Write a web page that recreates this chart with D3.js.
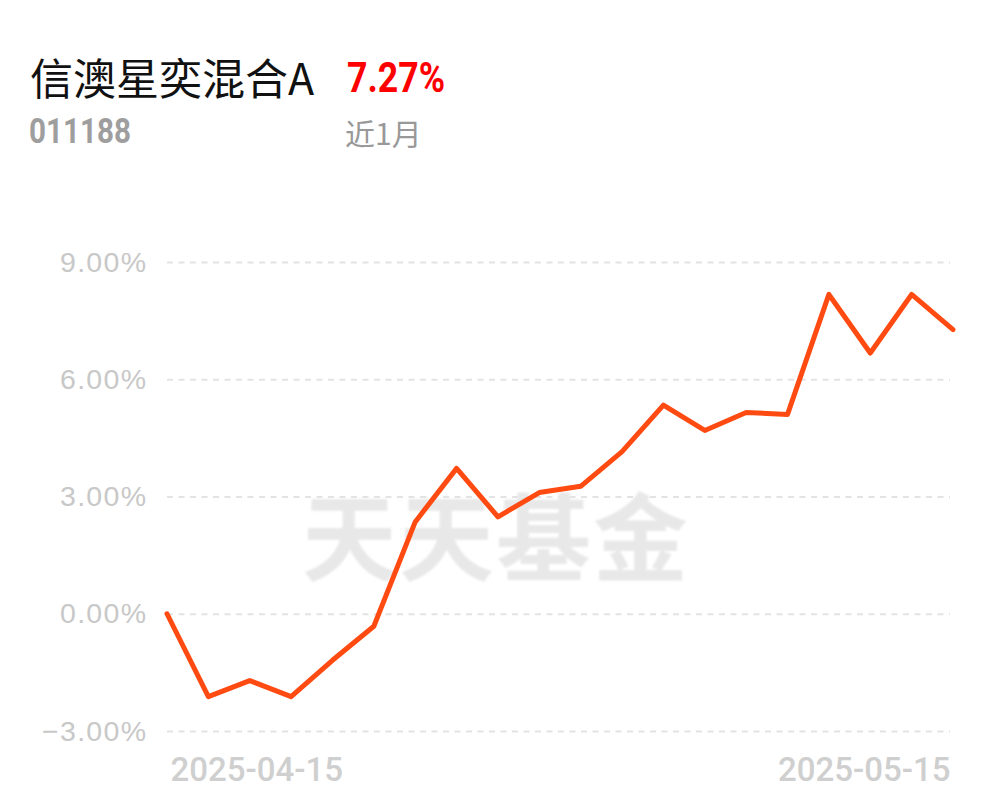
<!DOCTYPE html>
<html>
<head>
<meta charset="utf-8">
<script src="https://cdn.jsdelivr.net/npm/d3@7/dist/d3.min.js"></script>
<style>
  html, body { margin: 0; padding: 0; background: #fff; }
  svg { display: block; }
</style>
</head>
<body>
<svg id="chart" width="997" height="802"></svg>
<script>
// ---- data ----
const fundName = "信澳星奕混合A";
const fundCode = "011188";
const periodLabel = "近1月";
const periodReturn = "7.27%";
const watermark = "天天基金";

const dates = ["2025-04-15","2025-04-16","2025-04-17","2025-04-18","2025-04-21","2025-04-22",
  "2025-04-23","2025-04-24","2025-04-25","2025-04-28","2025-04-29","2025-04-30",
  "2025-05-06","2025-05-07","2025-05-08","2025-05-09","2025-05-12","2025-05-13",
  "2025-05-14","2025-05-15"];
const values = [0, -2.12, -1.71, -2.12, -1.19, -0.32, 2.35, 3.72, 2.48, 3.10, 3.26, 4.15,
  5.34, 4.69, 5.15, 5.10, 8.17, 6.67, 8.17, 7.27];
const yTicks = [-3, 0, 3, 6, 9];
const xTickLabels = ["2025-04-15", "2025-05-15"];

// ---- layout ----
const svg = d3.select("#chart");
const plotLeft = 167, plotRight = 953, gridRight = 950;
const x = d3.scalePoint().domain(dates).range([plotLeft, plotRight]);
const y = d3.scaleLinear().domain([-3, 9]).range([731, 262]);

svg.append("rect").attr("width", 997).attr("height", 802).attr("fill", "#fff");

const defs = svg.append("defs");
defs.append("filter").attr("id", "soft").append("feGaussianBlur").attr("stdDeviation", 0.8);

// header
svg.append("text").attr("x", 30).attr("y", 95)
  .attr("font-family", "'Noto Sans CJK SC', sans-serif").attr("font-size", 43)
  .attr("fill", "#111").text(fundName);
svg.append("text").attr("x", 347).attr("y", 92)
  .attr("font-family", "Roboto, sans-serif").attr("font-weight", 700).attr("font-size", 42)
  .attr("textLength", 98).attr("lengthAdjust", "spacingAndGlyphs")
  .attr("fill", "#f00").text(periodReturn);
svg.append("text").attr("x", 29).attr("y", 143)
  .attr("font-family", "Roboto, sans-serif").attr("font-weight", 700).attr("font-size", 35)
  .attr("textLength", 102).attr("lengthAdjust", "spacingAndGlyphs")
  .attr("fill", "#9e9e9e").text(fundCode);
svg.append("text").attr("x", 345).attr("y", 145)
  .attr("font-family", "'Noto Sans CJK SC', sans-serif").attr("font-size", 30)
  .attr("fill", "#999").text(periodLabel);

// y axis with gridlines
const yAxis = d3.axisLeft(y).tickValues(yTicks)
  .tickSize(-(gridRight - plotLeft)).tickPadding(21)
  .tickFormat(d => (d < 0 ? "\u2212" : "") + Math.abs(d).toFixed(2) + "%");
const gy = svg.append("g").attr("transform", `translate(${plotLeft},0)`).call(yAxis);
gy.select(".domain").remove();
gy.selectAll(".tick line").attr("stroke", "#e3e3e3").attr("stroke-width", 2)
  .attr("stroke-dasharray", "6,5.5");
gy.selectAll(".tick text").attr("fill", "#c8c8c8")
  .attr("font-family", "'Liberation Sans', Arial, sans-serif").attr("font-size", 28.5)
  .attr("letter-spacing", 1.3).attr("dx", 1.3);

// watermark
svg.append("text").attr("x", 496).attr("y", 574).attr("text-anchor", "middle")
  .attr("font-family", "'Noto Sans CJK SC', sans-serif").attr("font-weight", 700)
  .attr("font-size", 95).attr("letter-spacing", 2).attr("filter", "url(#soft)")
  .attr("fill", "#e8e8e8").text(watermark);

// x axis
const xAxis = d3.axisBottom(x).tickValues(xTickLabels).tickSize(0).tickPadding(0);
const gx = svg.append("g").attr("transform", "translate(0,781)").call(xAxis);
gx.select(".domain").remove();
gx.selectAll(".tick text")
  .attr("fill", "#cfcfcf").attr("font-family", "Roboto, sans-serif")
  .attr("font-weight", 500).attr("font-size", 33).attr("dy", 0)
  .attr("text-anchor", (d, i) => i === 0 ? "start" : "end")
  .attr("x", (d, i) => i === 0 ? 3 : -3);

// line
const line = d3.line().x((d, i) => x(dates[i])).y(d => y(d));
svg.append("path").datum(values).attr("d", line)
  .attr("fill", "none").attr("stroke", "#ff4b12").attr("stroke-width", 5)
  .attr("stroke-linejoin", "round").attr("stroke-linecap", "round");
</script>
</body>
</html>
